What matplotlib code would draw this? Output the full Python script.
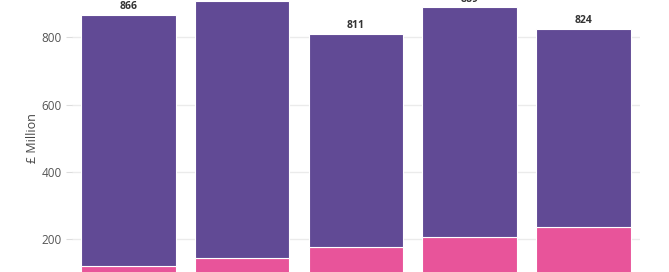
import numpy as np
import matplotlib.pyplot as plt

plt.rcParams['font.family'] = ['Open Sans', 'DejaVu Sans']

# five periods, stacked spend (GBP million)
periods = ["P1", "P2", "P3", "P4", "P5"]
pink_vals = [121, 144, 178, 208, 236]
totals = [866, 908, 811, 889, 824]
purple_vals = [t - p for t, p in zip(totals, pink_vals)]

pink = "#e8549a"
purple = "#614a95"

fig = plt.figure(figsize=(6.69, 2.72), dpi=100)
# axes runs past the top and bottom of the canvas, like the cropped source
ax = fig.add_axes([0.1072, -0.1276, 0.8498, 1.238])

x = np.arange(len(periods))
ax.bar(x, pink_vals, width=0.83, color=pink, edgecolor="white", linewidth=0.8, zorder=3)
ax.bar(x, purple_vals, width=0.83, bottom=pink_vals, color=purple,
       edgecolor="white", linewidth=0.8, zorder=3)

for xi, t in zip(x, totals):
    ax.annotate(str(t), (xi, t), xytext=(0, 2), textcoords="offset points",
                ha="center", va="bottom", fontsize=7.5, fontweight="bold", color="#333333")

ax.set_xlim(-0.5, 4.5)
ax.set_ylim(0, 1000)
ax.set_yticks([200, 400, 600, 800])
ax.set_xticks([])
ax.grid(axis="y", color="#ebebeb", linewidth=1, zorder=0)
ax.tick_params(axis="y", length=4, color="#dddddd", labelsize=8.5, labelcolor="#555555", pad=3)
for s in ax.spines.values():
    s.set_visible(False)
ax.set_ylabel("£ Million", fontsize=9, color="#444444", labelpad=2)

fig.savefig("out.png", dpi=100)
